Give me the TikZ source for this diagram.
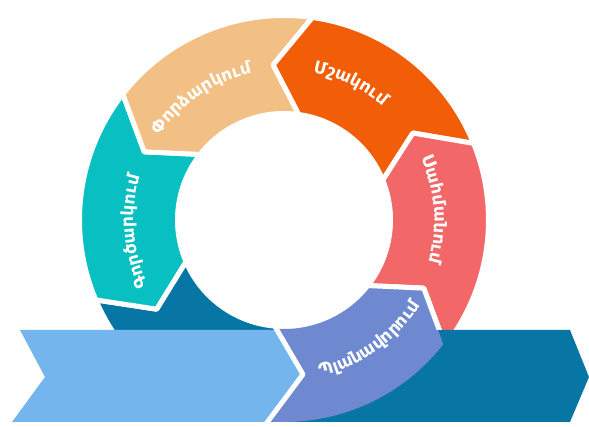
\documentclass[tikz,border=0pt]{standalone}
\usepackage{fontspec}
\usepackage{xcolor}
\usepackage{tikz}
\usetikzlibrary{decorations.text}
\newfontfamily\armfont{DejaVu Sans}
\definecolor{dkblue}{RGB}{8,118,165}
\definecolor{ltblue}{RGB}{116,181,238}
\definecolor{tealseg}{RGB}{8,191,193}
\definecolor{tanseg}{RGB}{242,192,132}
\definecolor{orgseg}{RGB}{242,93,7}
\definecolor{redseg}{RGB}{242,104,104}
\definecolor{purseg}{RGB}{110,137,208}

\begin{document}
\begin{tikzpicture}[x=1pt, y=1pt, line join=bevel,
  gap/.style={draw=white, line width=5pt},
  seglabel/.style={decorate, decoration={text along path, text align=center,
    text color=white, text={|\armfont\bfseries\fontsize{17}{17}\selectfont|#1}}}]

\useasboundingbox (0,0) rectangle (589,427);

%% ring pieces -- starting from the dark one at bottom left, going clockwise
\begin{scope}[shift={(284,207)}]

%% dark piece (runs under the arrows)
\draw[gap, fill=dkblue] (203:204.5) arc[start angle=203, end angle=268, radius=204.5] -- (268:106.5) arc[start angle=268, end angle=203, radius=106.5] -- (215:155.5) -- cycle;

%% teal piece
\draw[gap, fill=tealseg] (142:204.5) arc[start angle=142, end angle=203, radius=204.5] -- (215:155.5) -- (203:106.5) arc[start angle=203, end angle=142, radius=106.5] -- (154:155.5) -- cycle;

%% tan piece
\draw[gap, fill=tanseg] (82:204.5) arc[start angle=82, end angle=142, radius=204.5] -- (154:155.5) -- (142:106.5) arc[start angle=142, end angle=82, radius=106.5] -- (94:155.5) -- cycle;

%% orange piece
\draw[gap, fill=orgseg] (22:204.5) arc[start angle=22, end angle=82, radius=204.5] -- (94:155.5) -- (82:106.5) arc[start angle=82, end angle=22, radius=106.5] -- (34:155.5) -- cycle;

%% red piece
\draw[gap, fill=redseg] (-38:204.5) arc[start angle=-38, end angle=22, radius=204.5] -- (34:155.5) -- (22:106.5) arc[start angle=22, end angle=-38, radius=106.5] -- (-26:155.5) -- cycle;

\end{scope}

%% dark arrow (right)
\fill[dkblue] (250,97) -- (570,97) -- (589,50) -- (570,5) -- (250,5) -- cycle;

%% light blue arrow (left)
\fill[ltblue] (20,97) -- (275,97) -- (303,52.7) -- (266.4,5) -- (12,5) -- (45,50) -- cycle;

%% purple piece on top of both arrows
\begin{scope}[shift={(284,207)}]
\fill[purseg] (-95:202) arc[start angle=-95, end angle=-38, radius=202] -- (-26:155.5) -- (-38:109) arc[start angle=-38, end angle=-95, radius=109] -- (-83:155.5) -- cycle;
\draw[gap] (-95:204.5) -- (-83:155.5) -- (-95:106.5);
\begin{scope}
\clip (-284,-110) rectangle (305,220);
\draw[gap] (-38:204.5) -- (-26:155.5) -- (-38:106.5);
\end{scope}

%% labels along the ring
\path[seglabel=Գործարկում] (229.5:150.5) arc[start angle=229.5, end angle=139.5, radius=150.5];
\path[seglabel=Փորձարկում] (169:150.5) arc[start angle=169, end angle=79, radius=150.5];
\path[seglabel=Մշակում] (109:150.5) arc[start angle=109, end angle=19, radius=150.5];
\path[seglabel=Սահմանում] (49:150.5) arc[start angle=49, end angle=-41, radius=150.5];
\path[seglabel=Պլանավորում] (-99.5:160.5) arc[start angle=-99.5, end angle=-9.5, radius=160.5];
\end{scope}

\end{tikzpicture}
\end{document}
